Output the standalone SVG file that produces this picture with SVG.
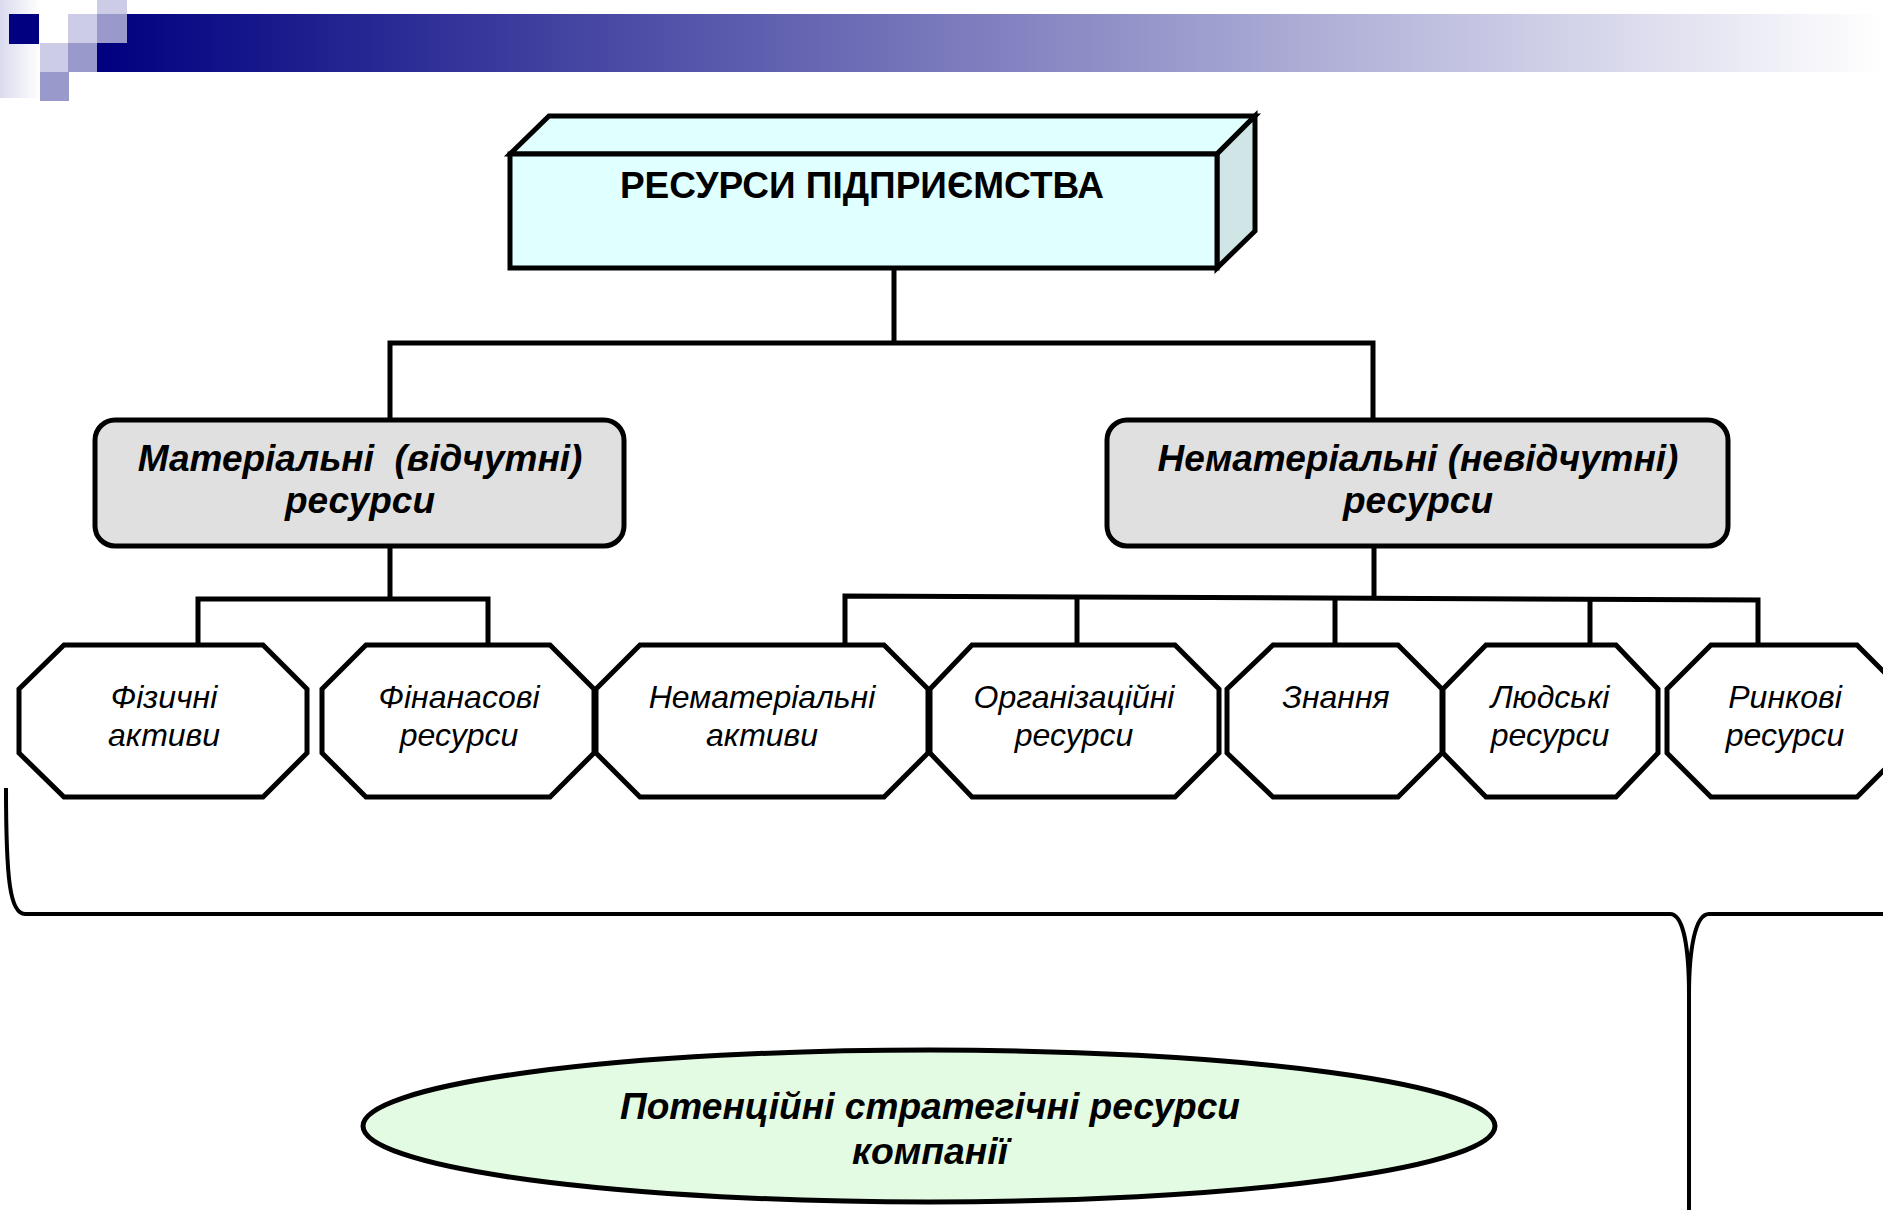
<svg xmlns="http://www.w3.org/2000/svg" width="1883" height="1210" viewBox="0 0 1883 1210">
<defs>
<linearGradient id="bar" gradientUnits="userSpaceOnUse" x1="97" y1="0" x2="1883" y2="0">
<stop offset="0" stop-color="#000080"/><stop offset="1" stop-color="#FFFFFF"/>
</linearGradient>
<linearGradient id="fade" x1="0" y1="0" x2="1" y2="0">
<stop offset="0" stop-color="#DADAEE"/><stop offset="1" stop-color="#FFFFFF"/>
</linearGradient>
<style>
.oct{fill:#FFFFFF;stroke:#000;stroke-width:5;stroke-linejoin:miter}
.rbox{fill:#E0E0E0;stroke:#000;stroke-width:5}
.ln{fill:none;stroke:#000;stroke-width:5}
.ot{font-family:"Liberation Sans",Arial,sans-serif;font-style:italic;font-size:32px;text-anchor:middle;fill:#000}
.bt{font-family:"Liberation Sans",Arial,sans-serif;font-style:italic;font-weight:bold;font-size:37px;text-anchor:middle;fill:#000;white-space:pre}
.tt{font-family:"Liberation Sans",Arial,sans-serif;font-weight:bold;font-size:37px;text-anchor:middle;fill:#000}
.lt{fill:#CCCCE6}.md{fill:#9999CC}.nv{fill:#000080}
</style>
</defs>
<rect width="1883" height="1210" fill="#FFFFFF"/>
<g id="banner">
<rect x="0" y="0" width="40" height="98" fill="url(#fade)"/>
<rect x="97" y="14" width="1786" height="58" fill="url(#bar)"/>
<rect class="nv" x="9" y="14" width="30" height="30"/>
<rect class="lt" x="68" y="14" width="29" height="29"/>
<rect class="lt" x="97" y="0" width="30" height="14"/>
<rect class="md" x="97" y="14" width="30" height="29"/>
<rect class="lt" x="40" y="43" width="28" height="29"/>
<rect class="md" x="68" y="43" width="29" height="29"/>
<rect class="md" x="40" y="72" width="29" height="29"/>
</g>
<g id="connectors">
<path class="ln" d="M894 268 V343" stroke-width="6"/>
<path class="ln" d="M390 420 V343 H1373 V420" stroke-width="6.5"/>
<path class="ln" d="M390 547 V599"/>
<path class="ln" d="M198 645 V599 H488 V645"/>
<path class="ln" d="M1374 547 V597"/>
<path class="ln" d="M845 645 V596 L1758 600 V645"/>
<path class="ln" d="M1077 645 V597"/>
<path class="ln" d="M1335 645 V598"/>
<path class="ln" d="M1590 645 V599"/>
<path fill="none" stroke="#000" stroke-width="4" d="M6 788 C6 880 10 914 25 914 L1670 914 C1684 914 1689 950 1689 995 L1689 1210 M1689 995 C1689 950 1695 914 1709 914 L1883 914"/>
</g>
<g id="top">
<polygon points="510,154 549,116 1255,116 1217,154" fill="#E0FFFF" stroke="#000" stroke-width="5" stroke-linejoin="miter"/>
<polygon points="1217,154 1255,116 1255,231 1217,268" fill="#D0E6E6" stroke="#000" stroke-width="5"/>
<rect x="510" y="154" width="707" height="114" fill="#E0FFFF" stroke="#000" stroke-width="5"/>
<text class="tt" x="862" y="198">РЕСУРСИ ПІДПРИЄМСТВА</text>
</g>
<g id="material">
<rect class="rbox" x="95" y="420" width="529" height="126" rx="20"/>
<text class="bt" x="360" y="471">Матеріальні  (відчутні)</text>
<text class="bt" x="360" y="513">ресурси</text>
</g>
<g id="intangible">
<rect class="rbox" x="1107" y="420" width="621" height="126" rx="20"/>
<text class="bt" x="1418" y="471">Нематеріальні (невідчутні)</text>
<text class="bt" x="1418" y="513">ресурси</text>
</g>
<g id="o1">
<polygon class="oct" points="64,645 263,645 307,689 307,753 263,797 64,797 19,753 19,689"/>
<text class="ot" x="164" y="708">Фізичні</text><text class="ot" x="164" y="746">активи</text>
</g>
<g id="o2">
<polygon class="oct" points="366,645 550,645 594,689 594,753 550,797 366,797 322,753 322,689"/>
<text class="ot" x="459" y="708">Фінанасові</text><text class="ot" x="459" y="746">ресурси</text>
</g>
<g id="o3">
<polygon class="oct" points="640,645 884,645 928,689 928,753 884,797 640,797 596,753 596,689"/>
<text class="ot" x="762" y="708">Нематеріальні</text><text class="ot" x="762" y="746">активи</text>
</g>
<g id="o4">
<polygon class="oct" points="972,645 1175,645 1219,689 1219,753 1175,797 972,797 930,753 930,689"/>
<text class="ot" x="1074" y="708">Організаційні</text><text class="ot" x="1074" y="746">ресурси</text>
</g>
<g id="o5">
<polygon class="oct" points="1273,645 1398,645 1442,689 1442,753 1398,797 1273,797 1227,753 1227,689"/>
<text class="ot" x="1336" y="708">Знання</text>
</g>
<g id="o6">
<polygon class="oct" points="1486,645 1616,645 1658,689 1658,753 1616,797 1486,797 1443,753 1443,689"/>
<text class="ot" x="1550" y="708">Людські</text><text class="ot" x="1550" y="746">ресурси</text>
</g>
<g id="o7">
<polygon class="oct" points="1711,645 1857,645 1901,689 1901,753 1857,797 1711,797 1667,753 1667,689"/>
<text class="ot" x="1785" y="708">Ринкові</text><text class="ot" x="1785" y="746">ресурси</text>
</g>
<g id="potential">
<ellipse cx="929" cy="1126" rx="566" ry="76" fill="#E3FBE3" stroke="#000" stroke-width="5"/>
<text class="bt" x="930" y="1119" textLength="620" lengthAdjust="spacingAndGlyphs" font-size="38">Потенційні стратегічні ресурси</text>
<text class="bt" x="930" y="1164" textLength="156" lengthAdjust="spacingAndGlyphs" font-size="38">компанії</text>
</g>
</svg>
